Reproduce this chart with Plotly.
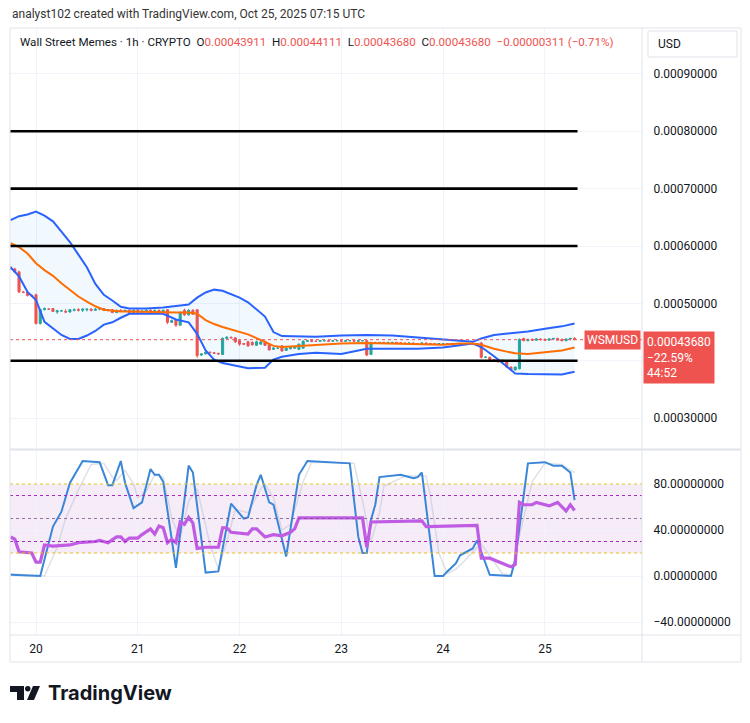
import plotly.graph_objects as go

P = 1e-5  # price arrays below are in units of 0.00001 USD

# ---------------- hourly candles (hour 0 = Oct 20 00:00 UTC) ----------------
hours = list(range(-6, 128))
opens = [56.3, 56.0, 55.5, 52.0, 51.9, 51.4,
         51.5, 46.5, 48.9, 49.0, 49.1, 48.5, 48.7, 48.6, 48.5, 48.8,
         48.9, 48.8, 48.9, 49.0, 48.8, 49.0, 49.1, 48.8, 48.9, 48.4,
         48.8, 48.6, 48.8, 48.4, 48.8, 48.4, 48.7, 48.8, 48.5, 48.8,
         48.6, 48.9, 46.7, 47.1, 46.2, 48.8, 48.0, 48.8, 48.9, 41.0,
         41.2, 41.5, 41.4, 41.3, 41.1, 43.9, 44.1, 44.0, 43.5, 43.0,
         43.3, 43.2, 42.7, 42.9, 43.4, 42.9, 42.0, 42.2, 42.6, 41.8,
         42.1, 42.2, 42.0, 42.2, 43.4, 43.5, 43.4, 43.4, 43.5, 43.5,
         43.4, 43.5, 43.5, 43.4, 43.5, 43.5, 43.4, 43.5, 43.5, 41.1,
         43.2, 43.1, 43.2, 43.1, 43.2, 43.2, 43.1, 43.1, 43.0, 43.1,
         43.0, 43.0, 43.1, 43.0, 43.0, 42.9, 43.0, 43.0, 42.9, 43.0,
         43.0, 42.9, 43.0, 43.0, 42.9, 43.1, 40.6, 40.6, 40.2, 40.2,
         39.8, 40.0, 38.9, 38.4, 38.6, 43.9, 43.5, 43.7, 43.6, 43.8,
         43.7, 43.6, 43.8, 43.9, 43.7, 43.5, 43.8, 43.911]
highs = [56.5, 56.2, 55.7, 52.2, 52.0, 51.6,
         51.7, 49.1, 49.3, 49.1, 49.2, 48.9, 48.9, 49.0, 49.0, 49.1,
         49.2, 49.2, 49.1, 49.2, 49.2, 49.3, 49.2, 49.0, 49.0, 48.9,
         49.0, 48.9, 48.9, 48.9, 49.0, 48.8, 48.9, 49.0, 48.9, 48.9,
         48.9, 49.0, 47.2, 47.3, 48.6, 49.1, 49.0, 49.0, 49.0, 41.3,
         41.6, 41.6, 41.5, 41.4, 44.1, 44.3, 44.2, 44.1, 43.7, 43.1,
         43.5, 43.4, 43.5, 43.4, 43.5, 43.0, 42.4, 42.3, 42.7, 42.3,
         42.5, 42.6, 43.0, 43.6, 43.5, 43.6, 43.5, 43.6, 43.6, 43.6,
         43.6, 43.6, 43.6, 43.5, 43.6, 43.6, 43.5, 43.6, 43.6, 43.3,
         43.3, 43.2, 43.3, 43.2, 43.3, 43.3, 43.2, 43.2, 43.2, 43.2,
         43.1, 43.2, 43.2, 43.1, 43.1, 43.1, 43.1, 43.1, 43.1, 43.1,
         43.1, 43.0, 43.1, 43.1, 43.0, 43.3, 40.7, 40.7, 40.3, 40.3,
         40.2, 40.1, 39.0, 39.0, 43.9, 44.0, 43.9, 43.9, 43.9, 43.9,
         43.9, 43.9, 43.9, 44.0, 43.9, 43.9, 43.95, 44.111]
lows = [55.9, 55.3, 51.8, 51.8, 51.2, 51.2,
        46.3, 46.3, 48.8, 48.9, 48.5, 48.2, 48.5, 48.3, 48.4, 48.6,
        48.6, 48.5, 48.6, 48.6, 48.7, 48.8, 48.7, 48.6, 48.3, 48.3,
        48.5, 48.5, 48.3, 48.3, 48.3, 48.3, 48.5, 48.4, 48.4, 48.5,
        48.5, 46.4, 46.6, 45.9, 46.1, 47.8, 47.9, 48.0, 40.5, 40.8,
        41.1, 41.3, 41.2, 41.1, 41.0, 43.8, 43.9, 43.1, 42.6, 42.8,
        42.4, 42.6, 42.6, 42.8, 42.6, 41.8, 41.9, 42.1, 41.6, 41.7,
        42.0, 42.1, 41.9, 42.1, 43.3, 43.3, 43.3, 43.3, 43.4, 43.3,
        43.4, 43.4, 43.4, 43.3, 43.4, 43.4, 43.3, 43.4, 40.8, 41.0,
        43.0, 43.0, 43.1, 43.0, 43.1, 43.0, 43.0, 42.9, 42.9, 43.0,
        42.9, 42.9, 43.0, 42.9, 42.9, 42.9, 42.9, 42.9, 42.8, 42.9,
        42.9, 42.8, 42.9, 42.9, 42.8, 40.4, 40.5, 40.1, 39.8, 39.7,
        39.7, 38.8, 38.3, 38.3, 38.5, 43.4, 43.4, 43.5, 43.5, 43.5,
        43.5, 43.5, 43.6, 43.6, 43.4, 43.4, 43.6, 43.680]
closes = [56.0, 55.5, 52.0, 51.9, 51.4, 51.3,
          46.5, 48.9, 49.1, 49.0, 48.6, 48.7, 48.7, 48.5, 48.9, 48.9,
          48.8, 49.0, 49.0, 48.8, 49.0, 49.1, 48.8, 48.9, 48.4, 48.8,
          48.6, 48.8, 48.4, 48.8, 48.4, 48.7, 48.8, 48.5, 48.8, 48.6,
          48.8, 46.7, 47.0, 46.2, 48.4, 48.0, 48.8, 48.1, 40.9, 41.2,
          41.5, 41.4, 41.3, 41.2, 43.9, 44.1, 44.0, 43.3, 42.9, 42.9,
          42.6, 42.8, 43.3, 43.3, 42.7, 41.9, 42.2, 42.2, 41.7, 42.2,
          42.3, 42.4, 42.9, 43.4, 43.5, 43.4, 43.4, 43.5, 43.5, 43.4,
          43.5, 43.5, 43.4, 43.5, 43.5, 43.4, 43.5, 43.5, 41.0, 43.2,
          43.1, 43.2, 43.1, 43.2, 43.2, 43.1, 43.1, 43.0, 43.1, 43.0,
          43.0, 43.1, 43.0, 43.0, 42.9, 43.0, 43.0, 42.9, 43.0, 43.0,
          42.9, 43.0, 43.0, 42.9, 43.0, 40.6, 40.65, 40.2, 39.9, 39.8,
          40.1, 38.9, 38.4, 38.9, 43.7, 43.5, 43.7, 43.6, 43.8, 43.7,
          43.6, 43.8, 43.9, 43.6, 43.5, 43.8, 43.9, 43.680]

# ---------------- Bollinger bands ----------------
bb_hours = [-6, -4, -2, 0, 2, 4, 6, 8, 10, 12, 14, 16, 18, 20, 22, 26, 30, 33, 36, 38,
            40, 42, 44, 48, 50, 54, 56, 58, 62, 66, 72, 78, 84, 90, 96, 100, 103, 105,
            108, 111, 113, 116, 120, 124, 127]
bb_upper = [64.5, 65.2, 65.5, 66.0, 65.3, 64.3, 62.5, 60.7, 58.5, 56.3, 53.4, 51.5, 50.5,
            49.4, 49.1, 49.1, 49.3, 49.6, 49.8, 51.0, 51.9, 52.4, 52.2, 51.0, 50.2, 47.7,
            45.0, 44.3, 44.2, 44.2, 44.4, 44.5, 44.4, 44.1, 43.8, 43.5, 43.3, 43.9, 44.5,
            44.7, 44.8, 45.1, 45.6, 46.0, 46.5]
bb_lower = [56.3, 54.7, 52.0, 50.6, 46.8, 45.6, 44.5, 43.8, 43.8, 44.4, 45.2, 46.3, 46.7,
            47.5, 48.2, 48.2, 48.2, 47.2, 46.7, 44.7, 41.8, 40.2, 39.6, 39.0, 38.7, 38.8,
            40.2, 40.7, 41.2, 41.4, 41.2, 42.1, 42.1, 42.1, 42.3, 42.7, 43.0, 42.4, 40.8,
            39.0, 37.8, 37.7, 37.7, 37.6, 38.1]
bb_basis = [60.5, 59.8, 58.7, 57.0, 55.8, 54.8, 53.5, 52.3, 51.2, 50.3, 49.5, 48.9, 48.7,
            48.6, 48.6, 48.5, 48.5, 48.4, 48.4, 48.2, 47.1, 46.4, 45.9, 45.1, 44.6, 43.3,
            42.6, 42.4, 42.6, 42.8, 43.0, 43.1, 43.0, 42.9, 42.8, 43.0, 43.0, 42.8, 42.1,
            41.6, 41.3, 41.2, 41.5, 41.8, 42.3]

# horizontal levels drawn by the author
levels = [40.0, 60.0, 70.0, 80.0]
last_price = 43.680

# ---------------- oscillators ----------------
k_hours = [-6, 1, 4, 6, 8, 11, 15, 17, 18, 20, 21, 23, 25, 27, 28, 29, 30, 33, 36, 37, 40,
           43, 46, 49, 50, 52, 53, 55, 56, 59, 62, 64, 74, 76, 77, 78, 79, 80, 81, 86, 89,
           90, 91, 94, 96, 97, 99, 100, 103, 104, 107, 112, 113, 116, 120, 122, 124, 126, 127]
k_vals = [1, 0, 43, 56, 81, 100, 99, 79, 79, 100, 81, 59, 64, 93, 88, 88, 82, 7, 96, 90, 3,
          4, 63, 50, 51, 79, 88, 64, 62, 17, 88, 100, 98, 34, 20, 20, 49, 62, 86, 88, 85,
          86, 90, 0, 0, 4, 11, 18, 24, 31, 1, 0, 14, 98, 99, 96, 96, 90, 66]
d_hours = [-6, 2, 5, 7, 10, 13, 16, 18, 19, 21, 23, 24, 26, 28, 30, 32, 34, 36, 38, 41, 43,
           45, 47, 50, 53, 54, 56, 58, 60, 63, 65, 75, 77, 79, 81, 82, 87, 92, 93, 95, 97,
           99, 101, 103, 105, 108, 110, 112, 114, 117, 120, 124, 127]
d_vals = [2, 0, 25, 50, 75, 97, 98, 86, 83, 92, 80, 68, 74, 88, 86, 50, 33, 65, 76, 28, 6,
          30, 58, 55, 76, 80, 68, 40, 45, 82, 99, 98, 65, 30, 55, 78, 87, 87, 70, 20, 2,
          6, 13, 21, 28, 12, 2, 1, 35, 82, 98, 97, 90]
rsi_hours = [-6, -5, -4, -1, 0, 1, 2, 4, 8, 10, 14, 15, 17, 19, 20, 21, 22, 24, 25, 27, 28,
             29, 30, 31, 32, 33, 34, 35, 36, 37, 38, 40, 43, 44, 45, 46, 50, 51, 52, 54, 56,
             58, 60, 61, 62, 77, 78, 79, 91, 92, 104, 105, 107, 110, 112, 113, 114, 115, 117,
             118, 121, 123, 125, 126, 127]
rsi_vals = [34, 32, 21, 20, 12, 12, 27, 26, 27, 29, 30, 31, 29, 34, 34, 30, 33, 33, 36, 41,
            36.5, 43.5, 42, 29, 32, 29, 47, 45, 51, 46, 24, 25, 25, 42, 42, 38, 36.5, 41, 41,
            34, 36, 35, 38, 41, 50.5, 50.5, 25, 47, 48, 43, 44, 15.5, 15.5, 11, 8, 10, 64, 62,
            62, 64, 61, 64, 56.5, 62, 57]

day_ticks = [0, 24, 48, 72, 96, 120]
day_labels = ["20", "21", "22", "23", "24", "25"]
price_ticks = [30, 50, 60, 70, 80, 90]      # 0.0004 label is hidden behind the price tag
price_grid = [30, 40, 50, 60, 70, 80, 90]
osc_ticks = [-40, 0, 40, 80]

# ---------------- layout geometry (pixels) ----------------
W, H = 750, 723
ML, MR, MT, MB = 10, 108, 28, 88
PW, PH = W - ML - MR, H - MT - MB


def fx(px):
    return (px - ML) / PW


def fy(py):
    return (H - MB - py) / PH


FONT = "Roboto, Arial, sans-serif"
TXT = "#131722"
RED = "#ef5350"
GREEN = "#26a69a"
GRID = "#f0f3fa"

fig = go.Figure()

fig.add_trace(go.Scatter(x=bb_hours, y=[v * P for v in bb_upper], mode="lines",
                         line=dict(color="#2962ff", width=2),
                         xaxis="x", yaxis="y", hoverinfo="skip"))
fig.add_trace(go.Scatter(x=bb_hours, y=[v * P for v in bb_lower], mode="lines",
                         line=dict(color="#2962ff", width=2), fill="tonexty",
                         fillcolor="rgba(33,150,243,0.06)", xaxis="x", yaxis="y", hoverinfo="skip"))
fig.add_trace(go.Scatter(x=bb_hours, y=[v * P for v in bb_basis], mode="lines",
                         line=dict(color="#ff6d00", width=2), xaxis="x", yaxis="y", hoverinfo="skip"))

fig.add_trace(go.Candlestick(
    x=hours, open=[v * P for v in opens], high=[v * P for v in highs],
    low=[v * P for v in lows], close=[v * P for v in closes],
    increasing=dict(line=dict(color=GREEN, width=1), fillcolor=GREEN),
    decreasing=dict(line=dict(color=RED, width=1), fillcolor=RED),
    whiskerwidth=0, xaxis="x", yaxis="y", showlegend=False))

# oscillator panel
fig.add_trace(go.Scatter(x=d_hours, y=d_vals, mode="lines",
                         line=dict(color="rgba(175,180,195,0.4)", width=1.5),
                         xaxis="x2", yaxis="y2", hoverinfo="skip"))
fig.add_trace(go.Scatter(x=k_hours, y=k_vals, mode="lines", line=dict(color="#3a86d8", width=2),
                         xaxis="x2", yaxis="y2", hoverinfo="skip"))
fig.add_trace(go.Scatter(x=rsi_hours, y=rsi_vals, mode="lines",
                         line=dict(color="#bf5ce3", width=3.2), xaxis="x2", yaxis="y2",
                         hoverinfo="skip"))

shapes = []
# author level lines
for lv in levels:
    shapes.append(dict(type="line", xref="x", yref="y", x0=hours[0] - 0.1, x1=hours[-1] + 0.7,
                       y0=lv * P, y1=lv * P, line=dict(color="#000000", width=2.6)))
# last price dotted line
shapes.append(dict(type="line", xref="paper", yref="y", x0=0, x1=1, y0=last_price * P,
                   y1=last_price * P, line=dict(color=RED, width=1, dash="dot")))
# oscillator band
shapes.append(dict(type="rect", xref="paper", yref="y2", x0=0, x1=1, y0=20, y1=80,
                   fillcolor="rgba(171,71,188,0.10)", line=dict(width=0), layer="below"))
for lv, col in [(80, "#e8c21a"), (20, "#e8c21a"), (70, "#a626c0"), (30, "#a626c0"),
                (50, "rgba(120,80,140,0.8)")]:
    shapes.append(dict(type="line", xref="paper", yref="y2", x0=0, x1=1, y0=lv, y1=lv,
                       line=dict(color=col, width=1, dash="dot")))
# frame and separators
line_c = "#e0e3eb"
shapes.append(dict(type="rect", xref="paper", yref="paper", x0=fx(10), x1=fx(741),
                   y0=fy(662), y1=fy(28), line=dict(color=line_c, width=1)))
shapes.append(dict(type="line", xref="paper", yref="paper", x0=fx(642), x1=fx(642),
                   y0=fy(662), y1=fy(28), line=dict(color=line_c, width=1)))
shapes.append(dict(type="line", xref="paper", yref="paper", x0=fx(10), x1=fx(741),
                   y0=fy(635), y1=fy(635), line=dict(color=line_c, width=1)))
shapes.append(dict(type="line", xref="paper", yref="paper", x0=fx(10), x1=fx(741),
                   y0=fy(449.5), y1=fy(449.5), line=dict(color=line_c, width=2)))
# USD box
shapes.append(dict(type="rect", xref="paper", yref="paper", x0=fx(648), x1=fx(737),
                   y0=fy(57), y1=fy(31), line=dict(color=line_c, width=1), fillcolor="white"))
# TradingView logo icon
shapes.append(dict(type="rect", xref="paper", yref="paper", x0=fx(10), x1=fx(24),
                   y0=fy(692), y1=fy(686), fillcolor="#131722", line=dict(width=0)))
shapes.append(dict(type="rect", xref="paper", yref="paper", x0=fx(17), x1=fx(24),
                   y0=fy(700), y1=fy(686), fillcolor="#131722", line=dict(width=0)))
shapes.append(dict(type="circle", xref="paper", yref="paper", x0=fx(25), x1=fx(30.5),
                   y0=fy(691.5), y1=fy(686), fillcolor="#131722", line=dict(width=0)))
shapes.append(dict(type="path", xref="paper", yref="paper",
                   path=f"M {fx(33)},{fy(686)} L {fx(40)},{fy(686)} L {fx(34)},{fy(700)} "
                        f"L {fx(27)},{fy(700)} Z",
                   fillcolor="#131722", line=dict(width=0)))
# faint grid line at 0.0004 (no label)
for g in price_grid:
    if g not in price_ticks:
        shapes.append(dict(type="line", xref="paper", yref="y", x0=0, x1=1, y0=g * P, y1=g * P,
                           line=dict(color=GRID, width=1), layer="below"))

hdr = ("Wall Street Memes · 1h · CRYPTO&nbsp;&nbsp;"
       f"O<span style='color:{RED}'>0.00043911</span>&nbsp;&nbsp;"
       f"H<span style='color:{RED}'>0.00044111</span>&nbsp;&nbsp;"
       f"L<span style='color:{RED}'>0.00043680</span>&nbsp;&nbsp;"
       f"C<span style='color:{RED}'>0.00043680</span>&nbsp;&nbsp;"
       f"<span style='color:{RED}'>−0.00000311 (−0.71%)</span>")

annotations = [
    dict(text="analyst102 created with TradingView.com, Oct 25, 2025 07:15 UTC", xref="paper",
         yref="paper", x=fx(10), y=fy(14), xanchor="left", yanchor="middle", showarrow=False,
         font=dict(family=FONT, size=12, color="#333333")),
    dict(text=hdr, xref="paper", yref="paper", x=fx(18), y=fy(42), xanchor="left",
         yanchor="middle", showarrow=False, font=dict(family=FONT, size=11.6, color=TXT)),
    dict(text="USD", xref="paper", yref="paper", x=fx(656), y=fy(44), xanchor="left",
         yanchor="middle", showarrow=False, font=dict(family=FONT, size=12, color=TXT)),
    dict(text="WSMUSD", xref="paper", yref="y", x=fx(641), y=last_price * P, xanchor="right",
         yanchor="middle", showarrow=False, bgcolor=RED, borderpad=2,
         font=dict(family=FONT, size=12, color="white")),
    dict(text="0.00043680<br>−22.59%<br>44:52", xref="paper", yref="y", x=fx(643),
         y=last_price * P, yshift=9, xanchor="left", yanchor="top", align="left",
         showarrow=False, bgcolor=RED, borderpad=3,
         font=dict(family=FONT, size=12, color="white")),
    dict(text="<b>TradingView</b>", xref="paper", yref="paper", x=fx(46), y=fy(693),
         xanchor="left", yanchor="middle", showarrow=False,
         font=dict(family="Inter, Roboto, sans-serif", size=20, color="#131722")),
]

x_range = [-6.13, 142.9]
fig.update_layout(
    width=W, height=H, margin=dict(l=ML, r=MR, t=MT, b=MB),
    paper_bgcolor="white", plot_bgcolor="white", showlegend=False,
    xaxis=dict(domain=[0, 1], range=x_range, anchor="y", showticklabels=False,
               tickvals=day_ticks, showgrid=True, gridcolor=GRID, zeroline=False,
               rangeslider=dict(visible=False), fixedrange=True),
    xaxis2=dict(domain=[0, 1], range=x_range, anchor="y2", matches="x", tickvals=day_ticks,
                ticktext=day_labels, showgrid=True, gridcolor=GRID, zeroline=False,
                tickfont=dict(family=FONT, size=12, color=TXT), ticks="outside", ticklen=3,
                tickcolor="rgba(0,0,0,0)"),
    yaxis=dict(domain=[(H - MB - 448) / PH, 1], range=[24.8 * P, 98.0 * P], side="right",
               anchor="x", tickvals=[v * P for v in price_ticks], tickformat=".8f",
               showgrid=True, gridcolor=GRID, zeroline=False, ticks="outside", ticklen=8,
               tickcolor="rgba(0,0,0,0)", tickfont=dict(family=FONT, size=12, color=TXT)),
    yaxis2=dict(domain=[0, (H - MB - 450) / PH], range=[-51.3, 109.6], side="right",
                anchor="x2", tickvals=osc_ticks, tickformat=".8f", showgrid=True,
                gridcolor=GRID, zeroline=False, ticks="outside", ticklen=8,
                tickcolor="rgba(0,0,0,0)", tickfont=dict(family=FONT, size=12, color=TXT)),
    shapes=shapes, annotations=annotations,
)

fig.write_html("out.html")
